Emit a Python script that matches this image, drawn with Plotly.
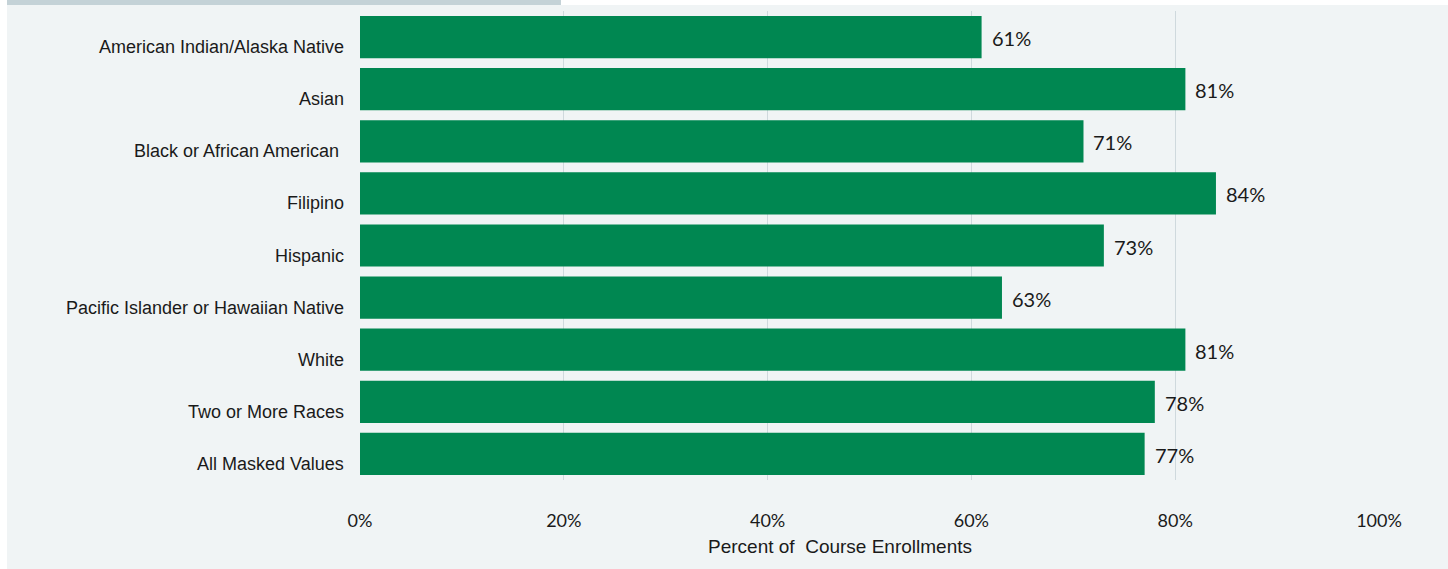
import plotly.graph_objects as go

# Course enrollment share by race/ethnicity
categories = [
    "American Indian/Alaska Native",
    "Asian",
    "Black or African American ",
    "Filipino",
    "Hispanic",
    "Pacific Islander or Hawaiian Native",
    "White",
    "Two or More Races",
    "All Masked Values",
]
percent_values = [61, 81, 71, 84, 73, 63, 81, 78, 77]
x_tick_values = [0, 20, 40, 60, 80, 100]
x_tick_labels = ["0%", "20%", "40%", "60%", "80%", "100%"]
x_title = "Percent of  Course Enrollments"

BAR_GREEN = "#008751"
PANEL_BG = "#f0f4f5"
STRIP = "#c4d2d7"
GRID = "#cfd9dd"
TEXT = "#1a1a1a"
LABEL_FONT = "Liberation Sans Narrow, Arial Narrow, sans-serif"
VALUE_FONT = "Lato, sans-serif"

PLOT_W, PLOT_H = 1019, 469
M_L, M_T, M_B = 360, 11, 89

fig = go.Figure(
    go.Bar(
        x=percent_values,
        y=categories,
        orientation="h",
        marker=dict(color=BAR_GREEN, line=dict(width=0)),
        hoverinfo="skip",
    )
)

# value labels just past the end of each bar
for cat, val in zip(categories, percent_values):
    fig.add_annotation(
        x=val, y=cat, text=f"{val}%", showarrow=False,
        xanchor="left", xshift=8, yshift=-1,
        font=dict(family=VALUE_FONT, size=20, color=TEXT),
    )

# category labels, set a little below each bar's centre line
for cat in categories:
    fig.add_annotation(
        x=0, xref="paper", y=cat, text=cat, showarrow=False,
        xanchor="right", xshift=-14, yshift=-10,
        font=dict(family=LABEL_FONT, size=18, color=TEXT),
    )

# axis title, 66 px below the plot area
fig.add_annotation(
    x=(840 - M_L) / PLOT_W, xref="paper", y=-66 / PLOT_H, yref="paper",
    text=x_title, showarrow=False, xanchor="center", yanchor="middle",
    font=dict(family=LABEL_FONT, size=19, color=TEXT),
)

# light panel behind the chart and the accent strip on top
fig.add_shape(type="rect", xref="paper", yref="paper",
              x0=-(M_L - 7) / PLOT_W, x1=1.2, y0=-M_B / PLOT_H, y1=(PLOT_H + M_T - 5) / PLOT_H,
              fillcolor=PANEL_BG, line=dict(width=0), layer="below")
fig.add_shape(type="rect", xref="paper", yref="paper",
              x0=-(M_L - 7) / PLOT_W, x1=(561 - M_L) / PLOT_W,
              y0=(PLOT_H + M_T - 5) / PLOT_H, y1=(PLOT_H + M_T + 2) / PLOT_H,
              fillcolor=STRIP, line=dict(width=0), layer="below")

fig.update_layout(
    width=1448, height=569,
    margin=dict(l=M_L, r=1448 - M_L - PLOT_W, t=M_T, b=M_B),
    paper_bgcolor="white",
    plot_bgcolor="rgba(0,0,0,0)",
    bargap=0.19,
    showlegend=False,
    xaxis=dict(
        range=[0, 100],
        tickvals=x_tick_values, ticktext=x_tick_labels,
        showgrid=True, gridcolor=GRID, gridwidth=1,
        zeroline=False, showline=False,
        ticks="outside", ticklen=24, tickcolor="rgba(0,0,0,0)",
        tickfont=dict(family=VALUE_FONT, size=18, color=TEXT),
        fixedrange=True,
    ),
    yaxis=dict(
        autorange="reversed",
        showgrid=False, zeroline=False, showline=False,
        showticklabels=False, ticks="",
        fixedrange=True,
    ),
)

fig.write_html("out.html")
